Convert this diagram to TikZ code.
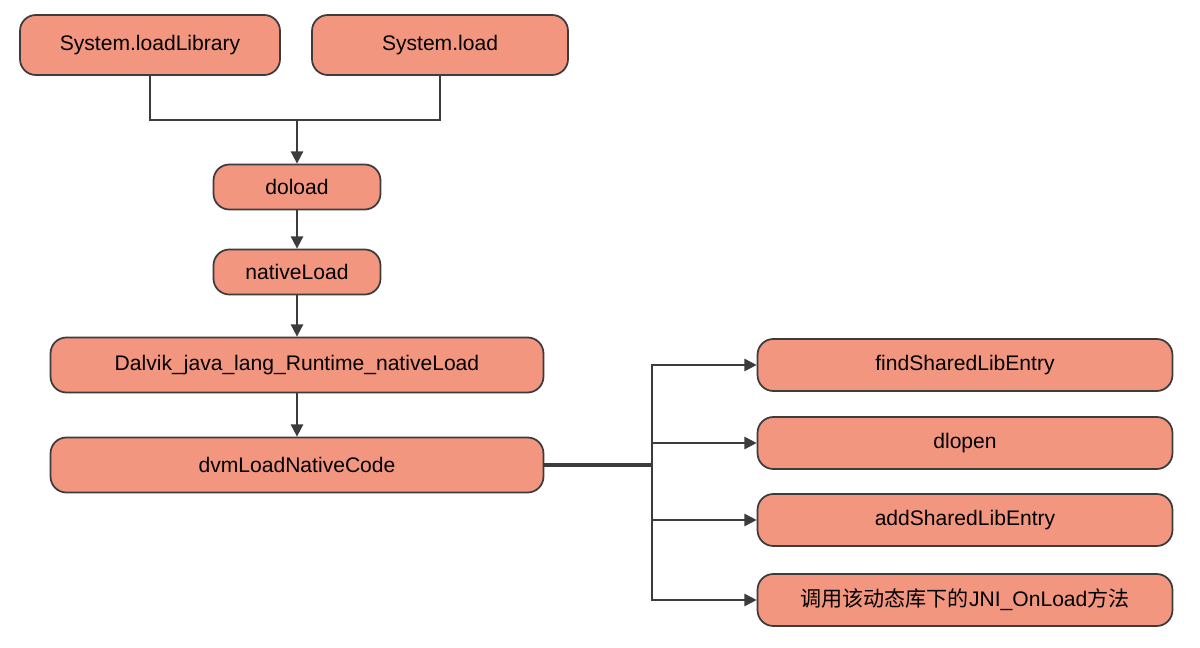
\documentclass[tikz,border=0pt]{standalone}
\usepackage{fontspec}
\setmainfont{Liberation Sans}
\newfontfamily\cjk{Noto Sans CJK SC}
\usetikzlibrary{arrows.meta}
\definecolor{boxfill}{RGB}{243,150,128}
\definecolor{boxline}{RGB}{60,60,60}
\tikzset{
	stepbox/.style={draw=boxline, line width=1pt, fill=boxfill, rounded corners=9pt, align=center, font=\fontsize{12}{14}\selectfont},
	link/.style={draw=boxline, line width=1pt},
	arr/.style={link, -{Triangle[length=7pt,width=7pt]}}
}
\begin{document}
\begin{tikzpicture}[x=0.02cm,y=-0.02cm]
	\useasboundingbox (0,0) rectangle (1200,648);
	\node (lib) at (150,45) [stepbox, minimum width=5.2cm, minimum height=1.2cm] {System.loadLibrary};
	\node (load) at (440,45) [stepbox, minimum width=5.12cm, minimum height=1.2cm] {System.load};
	\node (doload) at (297,187) [stepbox, minimum width=3.34cm, minimum height=0.9cm] {doload};
	\node (native) at (297,272) [stepbox, minimum width=3.34cm, minimum height=0.9cm] {nativeLoad};
	\node (dalvik) at (297,365) [stepbox, minimum width=9.86cm, minimum height=1.1cm] {Dalvik\_java\_lang\_Runtime\_nativeLoad};
	\node (dvm) at (297,465) [stepbox, minimum width=9.86cm, minimum height=1.1cm] {dvmLoadNativeCode};
		\node (find) at (965,365) [stepbox, minimum width=8.3cm, minimum height=1.04cm] {findSharedLibEntry};
		\node (dlopen) at (965,443) [stepbox, minimum width=8.3cm, minimum height=1.04cm] {dlopen};
		\node (add) at (965,520) [stepbox, minimum width=8.3cm, minimum height=1.04cm] {addSharedLibEntry};
		\node (onload) at (965,600) [stepbox, minimum width=8.3cm, minimum height=1.04cm] {{\cjk 调用该动态库下的}JNI\_OnLoad{\cjk 方法}};
	\coordinate (merge) at (297,120);
	\coordinate (split) at (652,465);
	\draw[link] (lib.south) |- (merge) -| (load.south);
	\draw[arr] (merge) -- (doload);
	\draw[arr] (doload) -- (native);
	\draw[arr] (native) -- (dalvik);
	\draw[arr] (dalvik) -- (dvm);
	\draw[link, line width=2pt] (dvm) -- (split);
	\foreach \t in {find,dlopen,add,onload}
		\draw[arr] (split) |- (\t.west);
\end{tikzpicture}
\end{document}
